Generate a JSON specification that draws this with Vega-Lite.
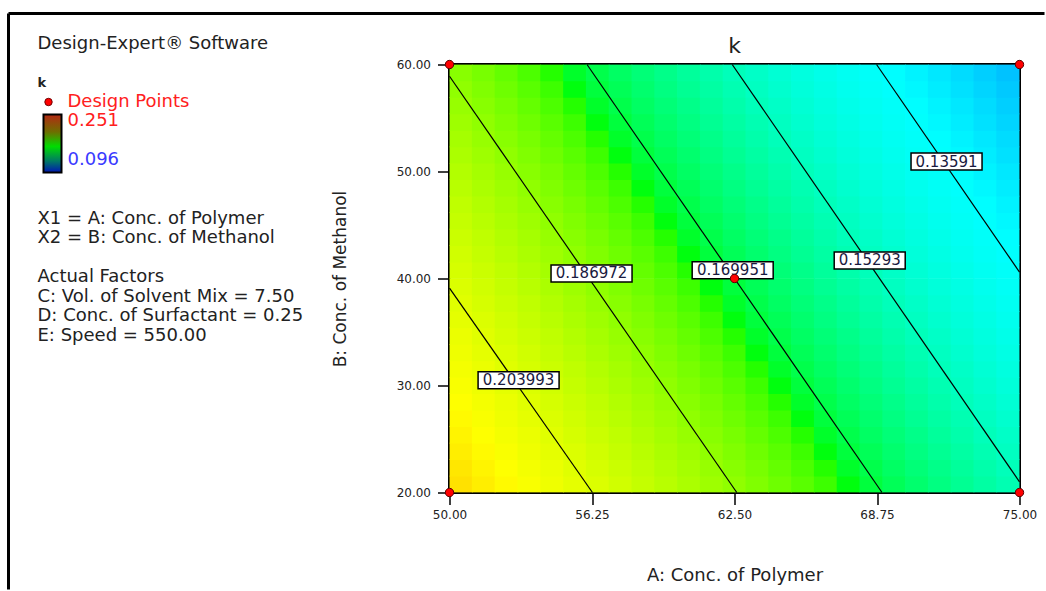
{
  "$schema": "https://vega.github.io/schema/vega-lite/v6.json",
  "padding": {"left": 6.5, "top": 11.5, "right": 0, "bottom": 0},
  "bounds": "flush",
  "spacing": 119,
  "config": {"view": {"stroke": null}, "font": "DejaVu Sans"},
  "resolve": {"scale": {"color": "independent", "fill": "independent"}},
  "datasets": {
    "frame": [
      {"c0": 0, "c1": 1036, "l0": -1.538, "l1": -1.538},
      {"c0": 0, "c1": 0, "l0": -1.538, "l1": 28.0}
    ],
    "bar": [{"c0": 35, "c1": 53, "l0": 3.64, "l1": 6.62}],
    "legendpoint": [{"col": 40, "line": 3}],
    "notes": [
      {"line": 0, "col": 29, "text": "Design-Expert® Software", "role": "plain"},
      {"line": 2, "col": 29, "text": "k", "role": "head"},
      {"line": 3, "col": 59, "text": "Design Points", "role": "high"},
      {"line": 4, "col": 59, "text": "0.251", "role": "high"},
      {"line": 6, "col": 59, "text": "0.096", "role": "low"},
      {"line": 9, "col": 29, "text": "X1 = A: Conc. of Polymer", "role": "plain"},
      {"line": 10, "col": 29, "text": "X2 = B: Conc. of Methanol", "role": "plain"},
      {"line": 12, "col": 29, "text": "Actual Factors", "role": "plain"},
      {"line": 13, "col": 29, "text": "C: Vol. of Solvent Mix = 7.50", "role": "plain"},
      {"line": 14, "col": 29, "text": "D: Conc. of Surfactant = 0.25", "role": "plain"},
      {"line": 15, "col": 29, "text": "E: Speed = 550.00", "role": "plain"}
    ],
    "contours": [
      {"c": "0.203993", "a": 50, "b": 39.1},
      {"c": "0.203993", "a": 56.27, "b": 20},
      {"c": "0.186972", "a": 50, "b": 58.9},
      {"c": "0.186972", "a": 62.6, "b": 20},
      {"c": "0.169951", "a": 56.03, "b": 60},
      {"c": "0.169951", "a": 68.97, "b": 20},
      {"c": "0.15293", "a": 62.4, "b": 60},
      {"c": "0.15293", "a": 75, "b": 21.0},
      {"c": "0.13591", "a": 68.73, "b": 60},
      {"c": "0.13591", "a": 75, "b": 40.6}
    ],
    "labels": [
      {"label": "0.203993", "a": 53.03, "b": 30.5},
      {"label": "0.186972", "a": 56.23, "b": 40.47},
      {"label": "0.169951", "a": 62.42, "b": 40.77},
      {"label": "0.15293", "a": 68.43, "b": 41.69},
      {"label": "0.13591", "a": 71.8, "b": 50.93}
    ],
    "points": [
      {"a": 50, "b": 20}, {"a": 50, "b": 60}, {"a": 75, "b": 20}, {"a": 75, "b": 60}, {"a": 62.5, "b": 40}
    ],
    "grid": [
      {"a":50.5,"b":20.77,"k":0.2187},{"a":51.5,"b":20.77,"k":0.2160},{"a":52.5,"b":20.77,"k":0.2133},{"a":53.5,"b":20.77,"k":0.2107},{"a":54.5,"b":20.77,"k":0.2080},{"a":55.5,"b":20.77,"k":0.2053},{"a":56.5,"b":20.77,"k":0.2026},{"a":57.5,"b":20.77,"k":0.2000},{"a":58.5,"b":20.77,"k":0.1973},{"a":59.5,"b":20.77,"k":0.1946},{"a":60.5,"b":20.77,"k":0.1919},{"a":61.5,"b":20.77,"k":0.1893},{"a":62.5,"b":20.77,"k":0.1866},{"a":63.5,"b":20.77,"k":0.1839},{"a":64.5,"b":20.77,"k":0.1812},{"a":65.5,"b":20.77,"k":0.1786},{"a":66.5,"b":20.77,"k":0.1759},{"a":67.5,"b":20.77,"k":0.1732},{"a":68.5,"b":20.77,"k":0.1705},{"a":69.5,"b":20.77,"k":0.1679},{"a":70.5,"b":20.77,"k":0.1652},{"a":71.5,"b":20.77,"k":0.1625},{"a":72.5,"b":20.77,"k":0.1598},{"a":73.5,"b":20.77,"k":0.1572},{"a":74.5,"b":20.77,"k":0.1545},
      {"a":50.5,"b":22.31,"k":0.2174},{"a":51.5,"b":22.31,"k":0.2147},{"a":52.5,"b":22.31,"k":0.2120},{"a":53.5,"b":22.31,"k":0.2093},{"a":54.5,"b":22.31,"k":0.2067},{"a":55.5,"b":22.31,"k":0.2040},{"a":56.5,"b":22.31,"k":0.2013},{"a":57.5,"b":22.31,"k":0.1986},{"a":58.5,"b":22.31,"k":0.1960},{"a":59.5,"b":22.31,"k":0.1933},{"a":60.5,"b":22.31,"k":0.1906},{"a":61.5,"b":22.31,"k":0.1879},{"a":62.5,"b":22.31,"k":0.1853},{"a":63.5,"b":22.31,"k":0.1826},{"a":64.5,"b":22.31,"k":0.1799},{"a":65.5,"b":22.31,"k":0.1772},{"a":66.5,"b":22.31,"k":0.1745},{"a":67.5,"b":22.31,"k":0.1719},{"a":68.5,"b":22.31,"k":0.1692},{"a":69.5,"b":22.31,"k":0.1665},{"a":70.5,"b":22.31,"k":0.1638},{"a":71.5,"b":22.31,"k":0.1612},{"a":72.5,"b":22.31,"k":0.1585},{"a":73.5,"b":22.31,"k":0.1558},{"a":74.5,"b":22.31,"k":0.1531},
      {"a":50.5,"b":23.85,"k":0.2160},{"a":51.5,"b":23.85,"k":0.2133},{"a":52.5,"b":23.85,"k":0.2107},{"a":53.5,"b":23.85,"k":0.2080},{"a":54.5,"b":23.85,"k":0.2053},{"a":55.5,"b":23.85,"k":0.2026},{"a":56.5,"b":23.85,"k":0.2000},{"a":57.5,"b":23.85,"k":0.1973},{"a":58.5,"b":23.85,"k":0.1946},{"a":59.5,"b":23.85,"k":0.1919},{"a":60.5,"b":23.85,"k":0.1893},{"a":61.5,"b":23.85,"k":0.1866},{"a":62.5,"b":23.85,"k":0.1839},{"a":63.5,"b":23.85,"k":0.1812},{"a":64.5,"b":23.85,"k":0.1786},{"a":65.5,"b":23.85,"k":0.1759},{"a":66.5,"b":23.85,"k":0.1732},{"a":67.5,"b":23.85,"k":0.1705},{"a":68.5,"b":23.85,"k":0.1679},{"a":69.5,"b":23.85,"k":0.1652},{"a":70.5,"b":23.85,"k":0.1625},{"a":71.5,"b":23.85,"k":0.1598},{"a":72.5,"b":23.85,"k":0.1572},{"a":73.5,"b":23.85,"k":0.1545},{"a":74.5,"b":23.85,"k":0.1518},
      {"a":50.5,"b":25.38,"k":0.2147},{"a":51.5,"b":25.38,"k":0.2120},{"a":52.5,"b":25.38,"k":0.2093},{"a":53.5,"b":25.38,"k":0.2067},{"a":54.5,"b":25.38,"k":0.2040},{"a":55.5,"b":25.38,"k":0.2013},{"a":56.5,"b":25.38,"k":0.1986},{"a":57.5,"b":25.38,"k":0.1960},{"a":58.5,"b":25.38,"k":0.1933},{"a":59.5,"b":25.38,"k":0.1906},{"a":60.5,"b":25.38,"k":0.1879},{"a":61.5,"b":25.38,"k":0.1853},{"a":62.5,"b":25.38,"k":0.1826},{"a":63.5,"b":25.38,"k":0.1799},{"a":64.5,"b":25.38,"k":0.1772},{"a":65.5,"b":25.38,"k":0.1745},{"a":66.5,"b":25.38,"k":0.1719},{"a":67.5,"b":25.38,"k":0.1692},{"a":68.5,"b":25.38,"k":0.1665},{"a":69.5,"b":25.38,"k":0.1638},{"a":70.5,"b":25.38,"k":0.1612},{"a":71.5,"b":25.38,"k":0.1585},{"a":72.5,"b":25.38,"k":0.1558},{"a":73.5,"b":25.38,"k":0.1531},{"a":74.5,"b":25.38,"k":0.1505},
      {"a":50.5,"b":26.92,"k":0.2133},{"a":51.5,"b":26.92,"k":0.2107},{"a":52.5,"b":26.92,"k":0.2080},{"a":53.5,"b":26.92,"k":0.2053},{"a":54.5,"b":26.92,"k":0.2026},{"a":55.5,"b":26.92,"k":0.2000},{"a":56.5,"b":26.92,"k":0.1973},{"a":57.5,"b":26.92,"k":0.1946},{"a":58.5,"b":26.92,"k":0.1919},{"a":59.5,"b":26.92,"k":0.1893},{"a":60.5,"b":26.92,"k":0.1866},{"a":61.5,"b":26.92,"k":0.1839},{"a":62.5,"b":26.92,"k":0.1812},{"a":63.5,"b":26.92,"k":0.1786},{"a":64.5,"b":26.92,"k":0.1759},{"a":65.5,"b":26.92,"k":0.1732},{"a":66.5,"b":26.92,"k":0.1705},{"a":67.5,"b":26.92,"k":0.1679},{"a":68.5,"b":26.92,"k":0.1652},{"a":69.5,"b":26.92,"k":0.1625},{"a":70.5,"b":26.92,"k":0.1598},{"a":71.5,"b":26.92,"k":0.1572},{"a":72.5,"b":26.92,"k":0.1545},{"a":73.5,"b":26.92,"k":0.1518},{"a":74.5,"b":26.92,"k":0.1491},
      {"a":50.5,"b":28.46,"k":0.2120},{"a":51.5,"b":28.46,"k":0.2093},{"a":52.5,"b":28.46,"k":0.2067},{"a":53.5,"b":28.46,"k":0.2040},{"a":54.5,"b":28.46,"k":0.2013},{"a":55.5,"b":28.46,"k":0.1986},{"a":56.5,"b":28.46,"k":0.1960},{"a":57.5,"b":28.46,"k":0.1933},{"a":58.5,"b":28.46,"k":0.1906},{"a":59.5,"b":28.46,"k":0.1879},{"a":60.5,"b":28.46,"k":0.1853},{"a":61.5,"b":28.46,"k":0.1826},{"a":62.5,"b":28.46,"k":0.1799},{"a":63.5,"b":28.46,"k":0.1772},{"a":64.5,"b":28.46,"k":0.1745},{"a":65.5,"b":28.46,"k":0.1719},{"a":66.5,"b":28.46,"k":0.1692},{"a":67.5,"b":28.46,"k":0.1665},{"a":68.5,"b":28.46,"k":0.1638},{"a":69.5,"b":28.46,"k":0.1612},{"a":70.5,"b":28.46,"k":0.1585},{"a":71.5,"b":28.46,"k":0.1558},{"a":72.5,"b":28.46,"k":0.1531},{"a":73.5,"b":28.46,"k":0.1505},{"a":74.5,"b":28.46,"k":0.1478},
      {"a":50.5,"b":30,"k":0.2107},{"a":51.5,"b":30,"k":0.2080},{"a":52.5,"b":30,"k":0.2053},{"a":53.5,"b":30,"k":0.2026},{"a":54.5,"b":30,"k":0.2000},{"a":55.5,"b":30,"k":0.1973},{"a":56.5,"b":30,"k":0.1946},{"a":57.5,"b":30,"k":0.1919},{"a":58.5,"b":30,"k":0.1893},{"a":59.5,"b":30,"k":0.1866},{"a":60.5,"b":30,"k":0.1839},{"a":61.5,"b":30,"k":0.1812},{"a":62.5,"b":30,"k":0.1786},{"a":63.5,"b":30,"k":0.1759},{"a":64.5,"b":30,"k":0.1732},{"a":65.5,"b":30,"k":0.1705},{"a":66.5,"b":30,"k":0.1679},{"a":67.5,"b":30,"k":0.1652},{"a":68.5,"b":30,"k":0.1625},{"a":69.5,"b":30,"k":0.1598},{"a":70.5,"b":30,"k":0.1572},{"a":71.5,"b":30,"k":0.1545},{"a":72.5,"b":30,"k":0.1518},{"a":73.5,"b":30,"k":0.1491},{"a":74.5,"b":30,"k":0.1464},
      {"a":50.5,"b":31.54,"k":0.2093},{"a":51.5,"b":31.54,"k":0.2067},{"a":52.5,"b":31.54,"k":0.2040},{"a":53.5,"b":31.54,"k":0.2013},{"a":54.5,"b":31.54,"k":0.1986},{"a":55.5,"b":31.54,"k":0.1960},{"a":56.5,"b":31.54,"k":0.1933},{"a":57.5,"b":31.54,"k":0.1906},{"a":58.5,"b":31.54,"k":0.1879},{"a":59.5,"b":31.54,"k":0.1853},{"a":60.5,"b":31.54,"k":0.1826},{"a":61.5,"b":31.54,"k":0.1799},{"a":62.5,"b":31.54,"k":0.1772},{"a":63.5,"b":31.54,"k":0.1745},{"a":64.5,"b":31.54,"k":0.1719},{"a":65.5,"b":31.54,"k":0.1692},{"a":66.5,"b":31.54,"k":0.1665},{"a":67.5,"b":31.54,"k":0.1638},{"a":68.5,"b":31.54,"k":0.1612},{"a":69.5,"b":31.54,"k":0.1585},{"a":70.5,"b":31.54,"k":0.1558},{"a":71.5,"b":31.54,"k":0.1531},{"a":72.5,"b":31.54,"k":0.1505},{"a":73.5,"b":31.54,"k":0.1478},{"a":74.5,"b":31.54,"k":0.1451},
      {"a":50.5,"b":33.08,"k":0.2080},{"a":51.5,"b":33.08,"k":0.2053},{"a":52.5,"b":33.08,"k":0.2026},{"a":53.5,"b":33.08,"k":0.2000},{"a":54.5,"b":33.08,"k":0.1973},{"a":55.5,"b":33.08,"k":0.1946},{"a":56.5,"b":33.08,"k":0.1919},{"a":57.5,"b":33.08,"k":0.1893},{"a":58.5,"b":33.08,"k":0.1866},{"a":59.5,"b":33.08,"k":0.1839},{"a":60.5,"b":33.08,"k":0.1812},{"a":61.5,"b":33.08,"k":0.1786},{"a":62.5,"b":33.08,"k":0.1759},{"a":63.5,"b":33.08,"k":0.1732},{"a":64.5,"b":33.08,"k":0.1705},{"a":65.5,"b":33.08,"k":0.1679},{"a":66.5,"b":33.08,"k":0.1652},{"a":67.5,"b":33.08,"k":0.1625},{"a":68.5,"b":33.08,"k":0.1598},{"a":69.5,"b":33.08,"k":0.1572},{"a":70.5,"b":33.08,"k":0.1545},{"a":71.5,"b":33.08,"k":0.1518},{"a":72.5,"b":33.08,"k":0.1491},{"a":73.5,"b":33.08,"k":0.1464},{"a":74.5,"b":33.08,"k":0.1438},
      {"a":50.5,"b":34.62,"k":0.2067},{"a":51.5,"b":34.62,"k":0.2040},{"a":52.5,"b":34.62,"k":0.2013},{"a":53.5,"b":34.62,"k":0.1986},{"a":54.5,"b":34.62,"k":0.1960},{"a":55.5,"b":34.62,"k":0.1933},{"a":56.5,"b":34.62,"k":0.1906},{"a":57.5,"b":34.62,"k":0.1879},{"a":58.5,"b":34.62,"k":0.1853},{"a":59.5,"b":34.62,"k":0.1826},{"a":60.5,"b":34.62,"k":0.1799},{"a":61.5,"b":34.62,"k":0.1772},{"a":62.5,"b":34.62,"k":0.1745},{"a":63.5,"b":34.62,"k":0.1719},{"a":64.5,"b":34.62,"k":0.1692},{"a":65.5,"b":34.62,"k":0.1665},{"a":66.5,"b":34.62,"k":0.1638},{"a":67.5,"b":34.62,"k":0.1612},{"a":68.5,"b":34.62,"k":0.1585},{"a":69.5,"b":34.62,"k":0.1558},{"a":70.5,"b":34.62,"k":0.1531},{"a":71.5,"b":34.62,"k":0.1505},{"a":72.5,"b":34.62,"k":0.1478},{"a":73.5,"b":34.62,"k":0.1451},{"a":74.5,"b":34.62,"k":0.1424},
      {"a":50.5,"b":36.15,"k":0.2053},{"a":51.5,"b":36.15,"k":0.2026},{"a":52.5,"b":36.15,"k":0.2000},{"a":53.5,"b":36.15,"k":0.1973},{"a":54.5,"b":36.15,"k":0.1946},{"a":55.5,"b":36.15,"k":0.1919},{"a":56.5,"b":36.15,"k":0.1893},{"a":57.5,"b":36.15,"k":0.1866},{"a":58.5,"b":36.15,"k":0.1839},{"a":59.5,"b":36.15,"k":0.1812},{"a":60.5,"b":36.15,"k":0.1786},{"a":61.5,"b":36.15,"k":0.1759},{"a":62.5,"b":36.15,"k":0.1732},{"a":63.5,"b":36.15,"k":0.1705},{"a":64.5,"b":36.15,"k":0.1679},{"a":65.5,"b":36.15,"k":0.1652},{"a":66.5,"b":36.15,"k":0.1625},{"a":67.5,"b":36.15,"k":0.1598},{"a":68.5,"b":36.15,"k":0.1572},{"a":69.5,"b":36.15,"k":0.1545},{"a":70.5,"b":36.15,"k":0.1518},{"a":71.5,"b":36.15,"k":0.1491},{"a":72.5,"b":36.15,"k":0.1464},{"a":73.5,"b":36.15,"k":0.1438},{"a":74.5,"b":36.15,"k":0.1411},
      {"a":50.5,"b":37.69,"k":0.2040},{"a":51.5,"b":37.69,"k":0.2013},{"a":52.5,"b":37.69,"k":0.1986},{"a":53.5,"b":37.69,"k":0.1960},{"a":54.5,"b":37.69,"k":0.1933},{"a":55.5,"b":37.69,"k":0.1906},{"a":56.5,"b":37.69,"k":0.1879},{"a":57.5,"b":37.69,"k":0.1853},{"a":58.5,"b":37.69,"k":0.1826},{"a":59.5,"b":37.69,"k":0.1799},{"a":60.5,"b":37.69,"k":0.1772},{"a":61.5,"b":37.69,"k":0.1745},{"a":62.5,"b":37.69,"k":0.1719},{"a":63.5,"b":37.69,"k":0.1692},{"a":64.5,"b":37.69,"k":0.1665},{"a":65.5,"b":37.69,"k":0.1638},{"a":66.5,"b":37.69,"k":0.1612},{"a":67.5,"b":37.69,"k":0.1585},{"a":68.5,"b":37.69,"k":0.1558},{"a":69.5,"b":37.69,"k":0.1531},{"a":70.5,"b":37.69,"k":0.1505},{"a":71.5,"b":37.69,"k":0.1478},{"a":72.5,"b":37.69,"k":0.1451},{"a":73.5,"b":37.69,"k":0.1424},{"a":74.5,"b":37.69,"k":0.1398},
      {"a":50.5,"b":39.23,"k":0.2026},{"a":51.5,"b":39.23,"k":0.2000},{"a":52.5,"b":39.23,"k":0.1973},{"a":53.5,"b":39.23,"k":0.1946},{"a":54.5,"b":39.23,"k":0.1919},{"a":55.5,"b":39.23,"k":0.1893},{"a":56.5,"b":39.23,"k":0.1866},{"a":57.5,"b":39.23,"k":0.1839},{"a":58.5,"b":39.23,"k":0.1812},{"a":59.5,"b":39.23,"k":0.1786},{"a":60.5,"b":39.23,"k":0.1759},{"a":61.5,"b":39.23,"k":0.1732},{"a":62.5,"b":39.23,"k":0.1705},{"a":63.5,"b":39.23,"k":0.1679},{"a":64.5,"b":39.23,"k":0.1652},{"a":65.5,"b":39.23,"k":0.1625},{"a":66.5,"b":39.23,"k":0.1598},{"a":67.5,"b":39.23,"k":0.1572},{"a":68.5,"b":39.23,"k":0.1545},{"a":69.5,"b":39.23,"k":0.1518},{"a":70.5,"b":39.23,"k":0.1491},{"a":71.5,"b":39.23,"k":0.1464},{"a":72.5,"b":39.23,"k":0.1438},{"a":73.5,"b":39.23,"k":0.1411},{"a":74.5,"b":39.23,"k":0.1384},
      {"a":50.5,"b":40.77,"k":0.2013},{"a":51.5,"b":40.77,"k":0.1986},{"a":52.5,"b":40.77,"k":0.1960},{"a":53.5,"b":40.77,"k":0.1933},{"a":54.5,"b":40.77,"k":0.1906},{"a":55.5,"b":40.77,"k":0.1879},{"a":56.5,"b":40.77,"k":0.1853},{"a":57.5,"b":40.77,"k":0.1826},{"a":58.5,"b":40.77,"k":0.1799},{"a":59.5,"b":40.77,"k":0.1772},{"a":60.5,"b":40.77,"k":0.1745},{"a":61.5,"b":40.77,"k":0.1719},{"a":62.5,"b":40.77,"k":0.1692},{"a":63.5,"b":40.77,"k":0.1665},{"a":64.5,"b":40.77,"k":0.1638},{"a":65.5,"b":40.77,"k":0.1612},{"a":66.5,"b":40.77,"k":0.1585},{"a":67.5,"b":40.77,"k":0.1558},{"a":68.5,"b":40.77,"k":0.1531},{"a":69.5,"b":40.77,"k":0.1505},{"a":70.5,"b":40.77,"k":0.1478},{"a":71.5,"b":40.77,"k":0.1451},{"a":72.5,"b":40.77,"k":0.1424},{"a":73.5,"b":40.77,"k":0.1398},{"a":74.5,"b":40.77,"k":0.1371},
      {"a":50.5,"b":42.31,"k":0.2000},{"a":51.5,"b":42.31,"k":0.1973},{"a":52.5,"b":42.31,"k":0.1946},{"a":53.5,"b":42.31,"k":0.1919},{"a":54.5,"b":42.31,"k":0.1893},{"a":55.5,"b":42.31,"k":0.1866},{"a":56.5,"b":42.31,"k":0.1839},{"a":57.5,"b":42.31,"k":0.1812},{"a":58.5,"b":42.31,"k":0.1786},{"a":59.5,"b":42.31,"k":0.1759},{"a":60.5,"b":42.31,"k":0.1732},{"a":61.5,"b":42.31,"k":0.1705},{"a":62.5,"b":42.31,"k":0.1679},{"a":63.5,"b":42.31,"k":0.1652},{"a":64.5,"b":42.31,"k":0.1625},{"a":65.5,"b":42.31,"k":0.1598},{"a":66.5,"b":42.31,"k":0.1572},{"a":67.5,"b":42.31,"k":0.1545},{"a":68.5,"b":42.31,"k":0.1518},{"a":69.5,"b":42.31,"k":0.1491},{"a":70.5,"b":42.31,"k":0.1464},{"a":71.5,"b":42.31,"k":0.1438},{"a":72.5,"b":42.31,"k":0.1411},{"a":73.5,"b":42.31,"k":0.1384},{"a":74.5,"b":42.31,"k":0.1357},
      {"a":50.5,"b":43.85,"k":0.1986},{"a":51.5,"b":43.85,"k":0.1960},{"a":52.5,"b":43.85,"k":0.1933},{"a":53.5,"b":43.85,"k":0.1906},{"a":54.5,"b":43.85,"k":0.1879},{"a":55.5,"b":43.85,"k":0.1853},{"a":56.5,"b":43.85,"k":0.1826},{"a":57.5,"b":43.85,"k":0.1799},{"a":58.5,"b":43.85,"k":0.1772},{"a":59.5,"b":43.85,"k":0.1745},{"a":60.5,"b":43.85,"k":0.1719},{"a":61.5,"b":43.85,"k":0.1692},{"a":62.5,"b":43.85,"k":0.1665},{"a":63.5,"b":43.85,"k":0.1638},{"a":64.5,"b":43.85,"k":0.1612},{"a":65.5,"b":43.85,"k":0.1585},{"a":66.5,"b":43.85,"k":0.1558},{"a":67.5,"b":43.85,"k":0.1531},{"a":68.5,"b":43.85,"k":0.1505},{"a":69.5,"b":43.85,"k":0.1478},{"a":70.5,"b":43.85,"k":0.1451},{"a":71.5,"b":43.85,"k":0.1424},{"a":72.5,"b":43.85,"k":0.1398},{"a":73.5,"b":43.85,"k":0.1371},{"a":74.5,"b":43.85,"k":0.1344},
      {"a":50.5,"b":45.38,"k":0.1973},{"a":51.5,"b":45.38,"k":0.1946},{"a":52.5,"b":45.38,"k":0.1919},{"a":53.5,"b":45.38,"k":0.1893},{"a":54.5,"b":45.38,"k":0.1866},{"a":55.5,"b":45.38,"k":0.1839},{"a":56.5,"b":45.38,"k":0.1812},{"a":57.5,"b":45.38,"k":0.1786},{"a":58.5,"b":45.38,"k":0.1759},{"a":59.5,"b":45.38,"k":0.1732},{"a":60.5,"b":45.38,"k":0.1705},{"a":61.5,"b":45.38,"k":0.1679},{"a":62.5,"b":45.38,"k":0.1652},{"a":63.5,"b":45.38,"k":0.1625},{"a":64.5,"b":45.38,"k":0.1598},{"a":65.5,"b":45.38,"k":0.1572},{"a":66.5,"b":45.38,"k":0.1545},{"a":67.5,"b":45.38,"k":0.1518},{"a":68.5,"b":45.38,"k":0.1491},{"a":69.5,"b":45.38,"k":0.1464},{"a":70.5,"b":45.38,"k":0.1438},{"a":71.5,"b":45.38,"k":0.1411},{"a":72.5,"b":45.38,"k":0.1384},{"a":73.5,"b":45.38,"k":0.1357},{"a":74.5,"b":45.38,"k":0.1331},
      {"a":50.5,"b":46.92,"k":0.1960},{"a":51.5,"b":46.92,"k":0.1933},{"a":52.5,"b":46.92,"k":0.1906},{"a":53.5,"b":46.92,"k":0.1879},{"a":54.5,"b":46.92,"k":0.1853},{"a":55.5,"b":46.92,"k":0.1826},{"a":56.5,"b":46.92,"k":0.1799},{"a":57.5,"b":46.92,"k":0.1772},{"a":58.5,"b":46.92,"k":0.1745},{"a":59.5,"b":46.92,"k":0.1719},{"a":60.5,"b":46.92,"k":0.1692},{"a":61.5,"b":46.92,"k":0.1665},{"a":62.5,"b":46.92,"k":0.1638},{"a":63.5,"b":46.92,"k":0.1612},{"a":64.5,"b":46.92,"k":0.1585},{"a":65.5,"b":46.92,"k":0.1558},{"a":66.5,"b":46.92,"k":0.1531},{"a":67.5,"b":46.92,"k":0.1505},{"a":68.5,"b":46.92,"k":0.1478},{"a":69.5,"b":46.92,"k":0.1451},{"a":70.5,"b":46.92,"k":0.1424},{"a":71.5,"b":46.92,"k":0.1398},{"a":72.5,"b":46.92,"k":0.1371},{"a":73.5,"b":46.92,"k":0.1344},{"a":74.5,"b":46.92,"k":0.1317},
      {"a":50.5,"b":48.46,"k":0.1946},{"a":51.5,"b":48.46,"k":0.1919},{"a":52.5,"b":48.46,"k":0.1893},{"a":53.5,"b":48.46,"k":0.1866},{"a":54.5,"b":48.46,"k":0.1839},{"a":55.5,"b":48.46,"k":0.1812},{"a":56.5,"b":48.46,"k":0.1786},{"a":57.5,"b":48.46,"k":0.1759},{"a":58.5,"b":48.46,"k":0.1732},{"a":59.5,"b":48.46,"k":0.1705},{"a":60.5,"b":48.46,"k":0.1679},{"a":61.5,"b":48.46,"k":0.1652},{"a":62.5,"b":48.46,"k":0.1625},{"a":63.5,"b":48.46,"k":0.1598},{"a":64.5,"b":48.46,"k":0.1572},{"a":65.5,"b":48.46,"k":0.1545},{"a":66.5,"b":48.46,"k":0.1518},{"a":67.5,"b":48.46,"k":0.1491},{"a":68.5,"b":48.46,"k":0.1464},{"a":69.5,"b":48.46,"k":0.1438},{"a":70.5,"b":48.46,"k":0.1411},{"a":71.5,"b":48.46,"k":0.1384},{"a":72.5,"b":48.46,"k":0.1357},{"a":73.5,"b":48.46,"k":0.1331},{"a":74.5,"b":48.46,"k":0.1304},
      {"a":50.5,"b":50,"k":0.1933},{"a":51.5,"b":50,"k":0.1906},{"a":52.5,"b":50,"k":0.1879},{"a":53.5,"b":50,"k":0.1853},{"a":54.5,"b":50,"k":0.1826},{"a":55.5,"b":50,"k":0.1799},{"a":56.5,"b":50,"k":0.1772},{"a":57.5,"b":50,"k":0.1745},{"a":58.5,"b":50,"k":0.1719},{"a":59.5,"b":50,"k":0.1692},{"a":60.5,"b":50,"k":0.1665},{"a":61.5,"b":50,"k":0.1638},{"a":62.5,"b":50,"k":0.1612},{"a":63.5,"b":50,"k":0.1585},{"a":64.5,"b":50,"k":0.1558},{"a":65.5,"b":50,"k":0.1531},{"a":66.5,"b":50,"k":0.1505},{"a":67.5,"b":50,"k":0.1478},{"a":68.5,"b":50,"k":0.1451},{"a":69.5,"b":50,"k":0.1424},{"a":70.5,"b":50,"k":0.1398},{"a":71.5,"b":50,"k":0.1371},{"a":72.5,"b":50,"k":0.1344},{"a":73.5,"b":50,"k":0.1317},{"a":74.5,"b":50,"k":0.1291},
      {"a":50.5,"b":51.54,"k":0.1919},{"a":51.5,"b":51.54,"k":0.1893},{"a":52.5,"b":51.54,"k":0.1866},{"a":53.5,"b":51.54,"k":0.1839},{"a":54.5,"b":51.54,"k":0.1812},{"a":55.5,"b":51.54,"k":0.1786},{"a":56.5,"b":51.54,"k":0.1759},{"a":57.5,"b":51.54,"k":0.1732},{"a":58.5,"b":51.54,"k":0.1705},{"a":59.5,"b":51.54,"k":0.1679},{"a":60.5,"b":51.54,"k":0.1652},{"a":61.5,"b":51.54,"k":0.1625},{"a":62.5,"b":51.54,"k":0.1598},{"a":63.5,"b":51.54,"k":0.1572},{"a":64.5,"b":51.54,"k":0.1545},{"a":65.5,"b":51.54,"k":0.1518},{"a":66.5,"b":51.54,"k":0.1491},{"a":67.5,"b":51.54,"k":0.1464},{"a":68.5,"b":51.54,"k":0.1438},{"a":69.5,"b":51.54,"k":0.1411},{"a":70.5,"b":51.54,"k":0.1384},{"a":71.5,"b":51.54,"k":0.1357},{"a":72.5,"b":51.54,"k":0.1331},{"a":73.5,"b":51.54,"k":0.1304},{"a":74.5,"b":51.54,"k":0.1277},
      {"a":50.5,"b":53.08,"k":0.1906},{"a":51.5,"b":53.08,"k":0.1879},{"a":52.5,"b":53.08,"k":0.1853},{"a":53.5,"b":53.08,"k":0.1826},{"a":54.5,"b":53.08,"k":0.1799},{"a":55.5,"b":53.08,"k":0.1772},{"a":56.5,"b":53.08,"k":0.1745},{"a":57.5,"b":53.08,"k":0.1719},{"a":58.5,"b":53.08,"k":0.1692},{"a":59.5,"b":53.08,"k":0.1665},{"a":60.5,"b":53.08,"k":0.1638},{"a":61.5,"b":53.08,"k":0.1612},{"a":62.5,"b":53.08,"k":0.1585},{"a":63.5,"b":53.08,"k":0.1558},{"a":64.5,"b":53.08,"k":0.1531},{"a":65.5,"b":53.08,"k":0.1505},{"a":66.5,"b":53.08,"k":0.1478},{"a":67.5,"b":53.08,"k":0.1451},{"a":68.5,"b":53.08,"k":0.1424},{"a":69.5,"b":53.08,"k":0.1398},{"a":70.5,"b":53.08,"k":0.1371},{"a":71.5,"b":53.08,"k":0.1344},{"a":72.5,"b":53.08,"k":0.1317},{"a":73.5,"b":53.08,"k":0.1291},{"a":74.5,"b":53.08,"k":0.1264},
      {"a":50.5,"b":54.62,"k":0.1893},{"a":51.5,"b":54.62,"k":0.1866},{"a":52.5,"b":54.62,"k":0.1839},{"a":53.5,"b":54.62,"k":0.1812},{"a":54.5,"b":54.62,"k":0.1786},{"a":55.5,"b":54.62,"k":0.1759},{"a":56.5,"b":54.62,"k":0.1732},{"a":57.5,"b":54.62,"k":0.1705},{"a":58.5,"b":54.62,"k":0.1679},{"a":59.5,"b":54.62,"k":0.1652},{"a":60.5,"b":54.62,"k":0.1625},{"a":61.5,"b":54.62,"k":0.1598},{"a":62.5,"b":54.62,"k":0.1572},{"a":63.5,"b":54.62,"k":0.1545},{"a":64.5,"b":54.62,"k":0.1518},{"a":65.5,"b":54.62,"k":0.1491},{"a":66.5,"b":54.62,"k":0.1464},{"a":67.5,"b":54.62,"k":0.1438},{"a":68.5,"b":54.62,"k":0.1411},{"a":69.5,"b":54.62,"k":0.1384},{"a":70.5,"b":54.62,"k":0.1357},{"a":71.5,"b":54.62,"k":0.1331},{"a":72.5,"b":54.62,"k":0.1304},{"a":73.5,"b":54.62,"k":0.1277},{"a":74.5,"b":54.62,"k":0.1250},
      {"a":50.5,"b":56.15,"k":0.1879},{"a":51.5,"b":56.15,"k":0.1853},{"a":52.5,"b":56.15,"k":0.1826},{"a":53.5,"b":56.15,"k":0.1799},{"a":54.5,"b":56.15,"k":0.1772},{"a":55.5,"b":56.15,"k":0.1745},{"a":56.5,"b":56.15,"k":0.1719},{"a":57.5,"b":56.15,"k":0.1692},{"a":58.5,"b":56.15,"k":0.1665},{"a":59.5,"b":56.15,"k":0.1638},{"a":60.5,"b":56.15,"k":0.1612},{"a":61.5,"b":56.15,"k":0.1585},{"a":62.5,"b":56.15,"k":0.1558},{"a":63.5,"b":56.15,"k":0.1531},{"a":64.5,"b":56.15,"k":0.1505},{"a":65.5,"b":56.15,"k":0.1478},{"a":66.5,"b":56.15,"k":0.1451},{"a":67.5,"b":56.15,"k":0.1424},{"a":68.5,"b":56.15,"k":0.1398},{"a":69.5,"b":56.15,"k":0.1371},{"a":70.5,"b":56.15,"k":0.1344},{"a":71.5,"b":56.15,"k":0.1317},{"a":72.5,"b":56.15,"k":0.1291},{"a":73.5,"b":56.15,"k":0.1264},{"a":74.5,"b":56.15,"k":0.1237},
      {"a":50.5,"b":57.69,"k":0.1866},{"a":51.5,"b":57.69,"k":0.1839},{"a":52.5,"b":57.69,"k":0.1812},{"a":53.5,"b":57.69,"k":0.1786},{"a":54.5,"b":57.69,"k":0.1759},{"a":55.5,"b":57.69,"k":0.1732},{"a":56.5,"b":57.69,"k":0.1705},{"a":57.5,"b":57.69,"k":0.1679},{"a":58.5,"b":57.69,"k":0.1652},{"a":59.5,"b":57.69,"k":0.1625},{"a":60.5,"b":57.69,"k":0.1598},{"a":61.5,"b":57.69,"k":0.1572},{"a":62.5,"b":57.69,"k":0.1545},{"a":63.5,"b":57.69,"k":0.1518},{"a":64.5,"b":57.69,"k":0.1491},{"a":65.5,"b":57.69,"k":0.1464},{"a":66.5,"b":57.69,"k":0.1438},{"a":67.5,"b":57.69,"k":0.1411},{"a":68.5,"b":57.69,"k":0.1384},{"a":69.5,"b":57.69,"k":0.1357},{"a":70.5,"b":57.69,"k":0.1331},{"a":71.5,"b":57.69,"k":0.1304},{"a":72.5,"b":57.69,"k":0.1277},{"a":73.5,"b":57.69,"k":0.1250},{"a":74.5,"b":57.69,"k":0.1224},
      {"a":50.5,"b":59.23,"k":0.1853},{"a":51.5,"b":59.23,"k":0.1826},{"a":52.5,"b":59.23,"k":0.1799},{"a":53.5,"b":59.23,"k":0.1772},{"a":54.5,"b":59.23,"k":0.1745},{"a":55.5,"b":59.23,"k":0.1719},{"a":56.5,"b":59.23,"k":0.1692},{"a":57.5,"b":59.23,"k":0.1665},{"a":58.5,"b":59.23,"k":0.1638},{"a":59.5,"b":59.23,"k":0.1612},{"a":60.5,"b":59.23,"k":0.1585},{"a":61.5,"b":59.23,"k":0.1558},{"a":62.5,"b":59.23,"k":0.1531},{"a":63.5,"b":59.23,"k":0.1505},{"a":64.5,"b":59.23,"k":0.1478},{"a":65.5,"b":59.23,"k":0.1451},{"a":66.5,"b":59.23,"k":0.1424},{"a":67.5,"b":59.23,"k":0.1398},{"a":68.5,"b":59.23,"k":0.1371},{"a":69.5,"b":59.23,"k":0.1344},{"a":70.5,"b":59.23,"k":0.1317},{"a":71.5,"b":59.23,"k":0.1291},{"a":72.5,"b":59.23,"k":0.1264},{"a":73.5,"b":59.23,"k":0.1237},{"a":74.5,"b":59.23,"k":0.1210}
    ]
  },
  "hconcat": [
    {
      "width": 322,
      "height": 428,
      "layer": [
        {
          "data": {"name": "frame"},
          "mark": {"type": "rule", "color": "black", "strokeWidth": 3},
          "encoding": {
            "x": {"field": "c0", "type": "quantitative", "scale": {"domain": [0, 322], "nice": false, "zero": false}, "axis": null},
            "x2": {"field": "c1"},
            "y": {"field": "l0", "type": "quantitative", "scale": {"domain": [1.0769, 23.026], "nice": false, "zero": false, "reverse": true}, "axis": null},
            "y2": {"field": "l1"}
          }
        },
        {
          "data": {"name": "bar"},
          "mark": {
            "type": "rect",
            "stroke": "black",
            "strokeWidth": 2,
            "fill": {
              "gradient": "linear", "x1": 0, "y1": 0, "x2": 0, "y2": 1,
              "stops": [
                {"offset": 0, "color": "#b42814"},
                {"offset": 0.3, "color": "#6e6e00"},
                {"offset": 0.55, "color": "#00dc00"},
                {"offset": 0.8, "color": "#007a64"},
                {"offset": 1, "color": "#0014b4"}
              ]
            }
          },
          "encoding": {
            "x": {"field": "c0", "type": "quantitative"},
            "x2": {"field": "c1"},
            "y": {"field": "l0", "type": "quantitative"},
            "y2": {"field": "l1"}
          }
        },
        {
          "data": {"name": "legendpoint"},
          "mark": {"type": "point", "shape": "circle", "filled": true, "fill": "#ff0000", "stroke": "#700000", "strokeWidth": 1, "size": 55, "opacity": 1},
          "encoding": {
            "x": {"field": "col", "type": "quantitative"},
            "y": {"field": "line", "type": "quantitative"}
          }
        },
        {
          "data": {"name": "notes"},
          "transform": [{"filter": "datum.role != 'head'"}],
          "mark": {"type": "text", "align": "left", "baseline": "middle", "fontSize": 18, "font": "DejaVu Sans"},
          "encoding": {
            "x": {"field": "col", "type": "quantitative"},
            "y": {"field": "line", "type": "quantitative"},
            "text": {"field": "text"},
            "fill": {"field": "role", "type": "nominal", "scale": {"domain": ["plain", "high", "low"], "range": ["#222222", "#ff2020", "#3a3aff"]}, "legend": null}
          }
        },
        {
          "data": {"name": "notes"},
          "transform": [{"filter": "datum.role == 'head'"}],
          "mark": {"type": "text", "align": "left", "baseline": "middle", "fontSize": 13, "fontWeight": "bold", "color": "#222222", "font": "DejaVu Sans"},
          "encoding": {
            "x": {"field": "col", "type": "quantitative"},
            "y": {"field": "line", "type": "quantitative"},
            "text": {"field": "text"}
          }
        }
      ]
    },
    {
      "width": 570,
      "height": 428,
      "view": {"stroke": "black", "strokeWidth": 3},
      "title": {"text": "k", "fontSize": 22, "fontWeight": "normal", "offset": 0, "color": "#222222", "font": "DejaVu Sans"},
      "encoding": {
        "x": {
          "field": "a", "type": "quantitative",
          "scale": {"domain": [50, 75], "nice": false, "zero": false},
          "axis": {
            "title": "A: Conc. of Polymer", "values": [50, 56.25, 62.5, 68.75, 75], "format": ".2f",
            "domain": false, "grid": false, "tickSize": 12, "tickColor": "#000000", "tickWidth": 1.5,
            "labelFontSize": 12, "labelColor": "#222222", "labelPadding": 5, "labelFlush": false, "labelFont": "DejaVu Sans",
            "titleFontSize": 18, "titleFontWeight": "normal", "titleColor": "#222222", "titlePadding": 46, "titleFont": "DejaVu Sans"
          }
        },
        "y": {
          "field": "b", "type": "quantitative",
          "scale": {"domain": [20, 60], "nice": false, "zero": false},
          "axis": {
            "title": "B: Conc. of Methanol", "values": [20, 30, 40, 50, 60], "format": ".2f",
            "domain": false, "grid": false, "tickSize": 12, "tickColor": "#000000", "tickWidth": 1.5,
            "labelFontSize": 12, "labelColor": "#222222", "labelPadding": 7, "labelFlush": false, "labelFont": "DejaVu Sans",
            "titleFontSize": 17, "titleFontWeight": "normal", "titleColor": "#222222", "titlePadding": 47, "titleFont": "DejaVu Sans"
          }
        }
      },
      "layer": [
        {
          "data": {"name": "grid"},
          "mark": {"type": "rect", "width": 23.6, "height": 17.2, "clip": true},
          "encoding": {
            "color": {
              "field": "k", "type": "quantitative",
              "scale": {"domain": [0.096, 0.13475, 0.1735, 0.21225, 0.251], "range": ["#0000ff", "#00ffff", "#00ff00", "#ffff00", "#ff0000"]},
              "legend": null
            }
          }
        },
        {
          "data": {"name": "contours"},
          "mark": {"type": "line", "color": "black", "strokeWidth": 1.2},
          "encoding": {"detail": {"field": "c", "type": "nominal"}}
        },
        {
          "data": {"name": "labels"},
          "transform": [{"filter": "length(datum.label) == 8"}],
          "mark": {"type": "rect", "width": 81, "height": 17, "fill": "white", "stroke": "black", "strokeWidth": 1.5}
        },
        {
          "data": {"name": "labels"},
          "transform": [{"filter": "length(datum.label) == 7"}],
          "mark": {"type": "rect", "width": 71, "height": 17, "fill": "white", "stroke": "black", "strokeWidth": 1.5}
        },
        {
          "data": {"name": "labels"},
          "mark": {"type": "text", "fontSize": 15, "color": "#1a1a40", "font": "DejaVu Sans", "baseline": "middle", "align": "center"},
          "encoding": {"text": {"field": "label"}}
        },
        {
          "data": {"name": "points"},
          "mark": {"type": "point", "shape": "circle", "filled": true, "size": 70, "fill": "#ff0000", "stroke": "#5a0000", "strokeWidth": 1, "opacity": 1}
        }
      ]
    }
  ]
}
